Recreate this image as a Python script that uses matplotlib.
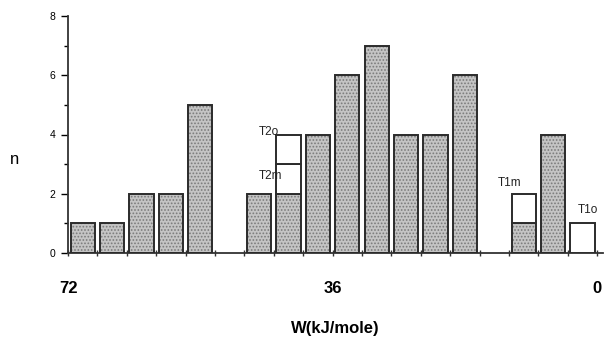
import matplotlib
matplotlib.use("Agg")
import matplotlib.pyplot as plt
import numpy as np

plt.rcParams['font.family'] = ['Liberation Sans', 'DejaVu Sans']
plt.rcParams['hatch.linewidth'] = 0.8

# Histogram bins of W (kJ/mole), 4 kJ wide, from 72 down to 0
bin_left = [72, 68, 64, 60, 56, 52, 48, 44, 40, 36, 32, 28, 24, 20, 16, 12, 8, 4]
filled = [1, 1, 2, 2, 5, 0, 2, 2, 4, 6, 7, 4, 4, 6, 0, 1, 4, 0]
# Open (unfilled) boxes stacked on top: (bin left edge, bottom, height, label)
open_boxes = [(44, 2, 1, "T2m"), (44, 3, 1, "T2o"), (12, 1, 1, "T1m"), (4, 0, 1, "T1o")]
label_pos = {"T2o": (44.6, 4.1), "T2m": (44.4, 2.6), "T1m": (11.9, 2.35), "T1o": (1.3, 1.45)}

bin_w = 4.0
bar_w = 3.3
edge = '#2b2b2b'

fig = plt.figure(figsize=(6.07, 3.39), dpi=100)
ax = fig.add_axes([68/607, 86/339, 535/607, 237/339])

centers = [b - bin_w/2 for b in bin_left]
for c, h in zip(centers, filled):
    if h > 0:
        # stippled fill, then a separate dark outline
        ax.bar(c, h, width=bar_w, bottom=0, facecolor='#c4c4c4', edgecolor='#7a7a7a',
               linewidth=0, hatch='.....', zorder=2)
        ax.bar(c, h, width=bar_w, bottom=0, fill=False, edgecolor=edge,
               linewidth=1.4, zorder=3)

for left, bottom, h, lab in open_boxes:
    ax.bar(left - bin_w/2, h, width=bar_w, bottom=bottom, facecolor='white',
           edgecolor=edge, linewidth=1.4, zorder=3)
    tx, ty = label_pos[lab]
    ax.text(tx, ty, lab, fontsize=8.5, ha='center', va='center', color='#222222')

ax.set_xlim(72, -0.8)
ax.set_ylim(0, 8)

ax.spines['top'].set_visible(False)
ax.spines['right'].set_visible(False)
for s in ('left', 'bottom'):
    ax.spines[s].set_linewidth(1.3)
    ax.spines[s].set_color('#333333')

xt = np.arange(0, 73, 4)
ax.set_xticks(xt)
ax.set_xticklabels([str(v) if v in (72, 36, 0) else '' for v in xt],
                   fontsize=12, fontweight='bold')
ax.tick_params(axis='x', direction='inout', length=4, width=1, pad=18, color='#333333')

ax.set_yticks([0, 2, 4, 6, 8])
ax.set_yticks([1, 3, 5, 7], minor=True)
ax.tick_params(axis='y', which='major', direction='out', length=5, width=1, labelsize=7.5, pad=4)
ax.tick_params(axis='y', which='minor', direction='out', length=3, width=1)

ax.set_xlabel('W(kJ/mole)', fontsize=12, fontweight='bold', labelpad=18)
fig.text(15/607, 1 - 160/339, 'n', fontsize=12, ha='center', va='center')

fig.savefig('out.png', dpi=100)
